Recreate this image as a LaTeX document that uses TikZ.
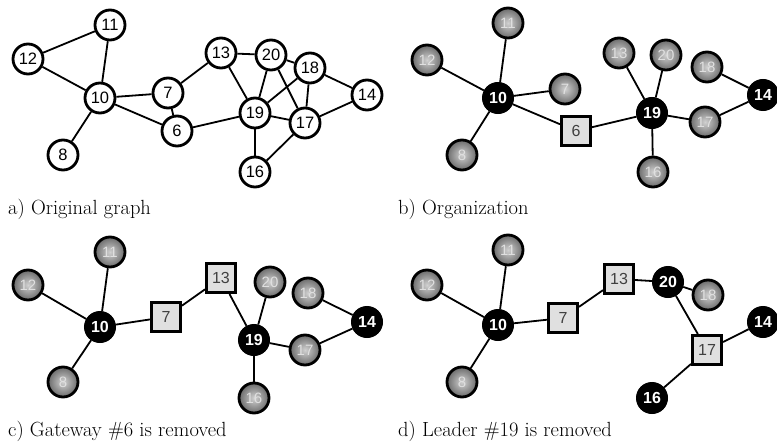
\documentclass[tikz,border=0pt]{standalone}
\usepackage{fontspec}
\newfontfamily\lblfont{Liberation Sans}
\begin{document}
\begin{tikzpicture}[x=1pt,y=-1pt,
  plain/.style={circle,draw=black,line width=2.8pt,fill=white,minimum size=30pt,inner sep=0pt,font=\lblfont\fontsize{16.5}{16.5}\selectfont},
  member/.style={circle,draw=black,line width=2.8pt,shading=radial,inner color=white!82!black,outer color=white!42!black,minimum size=30pt,inner sep=0pt,text=white!88!black,font=\lblfont\fontsize{15}{15}\selectfont},
  leader/.style={circle,draw=black,line width=1pt,fill=black,minimum size=31pt,inner sep=0pt,text=white,font=\lblfont\bfseries\fontsize{16}{16}\selectfont},
  gate/.style={rectangle,draw=black,line width=3pt,fill=white!88!black,minimum size=29pt,inner sep=0pt,text=white!25!black,font=\lblfont\fontsize{16}{16}\selectfont},
  conn/.style={line width=1.8pt,draw=black},
  captxt/.style={anchor=base west,inner sep=0pt,font=\fontsize{20.5}{24}\selectfont}]
\useasboundingbox (0,0) rectangle (777,444);
% ---------- panel a ----------
\node[plain] (a11) at (110,25) {11};
\node[plain] (a12) at (28,59) {12};
\node[plain] (a10) at (100,98) {10};
\node[plain] (a8) at (63,155) {8};
\node[plain] (a7) at (168,93) {7};
\node[plain] (a6) at (177,131) {6};
\node[plain] (a13) at (221,53) {13};
\node[plain] (a20) at (271,55) {20};
\node[plain] (a18) at (310,68) {18};
\node[plain] (a14) at (367,95) {14};
\node[plain] (a19) at (255,113) {19};
\node[plain] (a17) at (305,123) {17};
\node[plain] (a16) at (255,172) {16};
\begin{scope}[conn]
\foreach \u/\v in {a11/a12,a11/a10,a12/a10,a10/a7,a10/a6,a10/a8,a7/a6,a7/a13,a6/a19,a13/a20,a13/a19,a20/a19,a20/a17,a20/a18,a18/a19,a18/a17,a18/a14,a14/a17,a19/a17,a19/a16,a16/a17}
  \draw (\u) -- (\v);
\end{scope}
% ---------- panel b ----------
\node[member] (b11) at (508,23) {11};
\node[member] (b12) at (427,60) {12};
\node[leader] (b10) at (498,98) {10};
\node[member] (b7) at (565,89) {7};
\node[member] (b8) at (462,155) {8};
\node[gate] (b6) at (576,131) {6};
\node[member] (b13) at (619,53) {13};
\node[member] (b20) at (666,55) {20};
\node[member] (b18) at (707,67) {18};
\node[leader] (b14) at (763,95) {14};
\node[leader] (b19) at (652,113) {19};
\node[member] (b17) at (705,122) {17};
\node[member] (b16) at (653,172) {16};
\begin{scope}[conn]
\foreach \u/\v in {b10/b12,b10/b11,b10/b7,b10/b8,b10/b6,b6/b19,b19/b13,b19/b20,b19/b17,b19/b16,b18/b14,b14/b17}
  \draw (\u) -- (\v);
\end{scope}
% ---------- panel c ----------
\node[member] (c11) at (110,252) {11};
\node[member] (c12) at (28,285) {12};
\node[leader] (c10) at (100,327) {10};
\node[member] (c8) at (63,382) {8};
\node[gate] (c7) at (166,317) {7};
\node[gate] (c13) at (221,278) {13};
\node[member] (c20) at (270,282) {20};
\node[member] (c18) at (308,293) {18};
\node[leader] (c14) at (367,322) {14};
\node[leader] (c19) at (254,340) {19};
\node[member] (c17) at (305,350) {17};
\node[member] (c16) at (254,398) {16};
\begin{scope}[conn]
\foreach \u/\v in {c10/c11,c10/c12,c10/c8,c10/c7,c7/c13,c13/c19,c19/c20,c19/c17,c19/c16,c18/c14,c14/c17}
  \draw (\u) -- (\v);
\end{scope}
% ---------- panel d ----------
\node[member] (d11) at (508,250) {11};
\node[member] (d12) at (427,285) {12};
\node[leader] (d10) at (498,325) {10};
\node[member] (d8) at (462,382) {8};
\node[gate] (d7) at (563,318) {7};
\node[gate] (d13) at (619,279) {13};
\node[leader] (d20) at (668,282) {20};
\node[member] (d18) at (708,295) {18};
\node[leader] (d14) at (763,322) {14};
\node[gate] (d17) at (707,350) {17};
\node[leader] (d16) at (652,398) {16};
\begin{scope}[conn]
\foreach \u/\v in {d10/d11,d10/d12,d10/d8,d10/d7,d7/d13,d13/d20,d20/d18,d20/d17,d17/d14,d17/d16}
  \draw (\u) -- (\v);
\end{scope}
% ---------- captions ----------
\node[captxt] (capa) at (8,214) {a) Original graph};
\node[captxt] (capb) at (398,214) {b) Organization};
\node[captxt] (capc) at (8,436) {c) Gateway \#6 is removed};
\node[captxt] (capd) at (398,436) {d) Leader \#19 is removed};
\end{tikzpicture}
\end{document}
